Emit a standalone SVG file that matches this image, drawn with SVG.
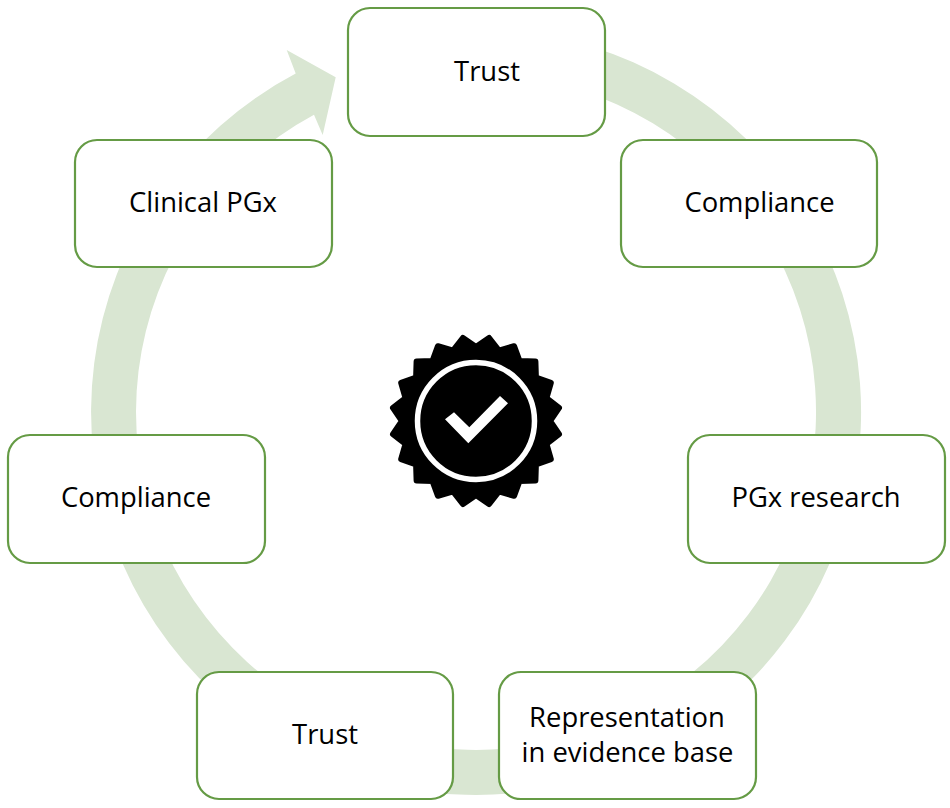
<svg xmlns="http://www.w3.org/2000/svg" width="950" height="808" viewBox="0 0 950 808">
<style>
.box{fill:#fff;stroke:#659b45;stroke-width:2.2}
.lbl{font-family:"Open Sans","Liberation Sans",sans-serif;font-size:27.4px;fill:#000;text-anchor:middle}
</style>
<rect width="950" height="808" fill="#fff"/>
<g id="connectors">
<path id="cycle-arrow" fill="#d9e6d2" d="M295.7 73.6 A385 383 0 1 0 500 29.7 L500 74.8 A340 338 0 1 1 314 114.8 L322.7 135 L335.7 77.3 L286.7 50 Z"/>
</g>
<g id="badge" transform="translate(476 421)">
<path fill="#000" stroke="#000" stroke-width="6" stroke-linejoin="round" d="M0-74L13.1-83L22.9-70.4L38.1-74.8L43.5-59.9L59.4-59.4L59.9-43.5L74.8-38.1L70.4-22.9L83-13.1L74 0L83 13.1L70.4 22.9L74.8 38.1L59.9 43.5L59.4 59.4L43.5 59.9L38.1 74.8L22.9 70.4L13.1 83L0 74L-13.1 83L-22.9 70.4L-38.1 74.8L-43.5 59.9L-59.4 59.4L-59.9 43.5L-74.8 38.1L-70.4 22.9L-83 13.1L-74 0L-83-13.1L-70.4-22.9L-74.8-38.1L-59.9-43.5L-59.4-59.4L-43.5-59.9L-38.1-74.8L-22.9-70.4L-13.1-83Z"/>
<circle r="58.5" fill="none" stroke="#fff" stroke-width="5.5"/>
<path fill="#fff" d="M-31-1.7L-22-8.7L-6.7 6.3L24-25L32-17.7L-7.7 22.3Z"/>
</g>
<g id="node-trust-top"><rect class="box" x="348" y="8" width="257" height="128" rx="22"/><text class="lbl" x="487" y="81">Trust</text></g>
<g id="node-compliance-right"><rect class="box" x="621" y="140" width="256" height="127" rx="22"/><text class="lbl" x="759.5" y="212">Compliance</text></g>
<g id="node-pgx-research"><rect class="box" x="688" y="435" width="257" height="128" rx="22"/><text class="lbl" x="816" y="507">PGx research</text></g>
<g id="node-representation"><rect class="box" x="499" y="672" width="257" height="127" rx="22"/><text class="lbl" x="627" y="727">Representation</text><text class="lbl" x="627.5" y="762">in evidence base</text></g>
<g id="node-trust-bottom"><rect class="box" x="197" y="672" width="256" height="127" rx="22"/><text class="lbl" x="325" y="744">Trust</text></g>
<g id="node-compliance-left"><rect class="box" x="8" y="435" width="257" height="128" rx="22"/><text class="lbl" x="136" y="507">Compliance</text></g>
<g id="node-clinical-pgx"><rect class="box" x="75" y="140" width="257" height="127" rx="22"/><text class="lbl" x="203" y="212">Clinical PGx</text></g>
</svg>
